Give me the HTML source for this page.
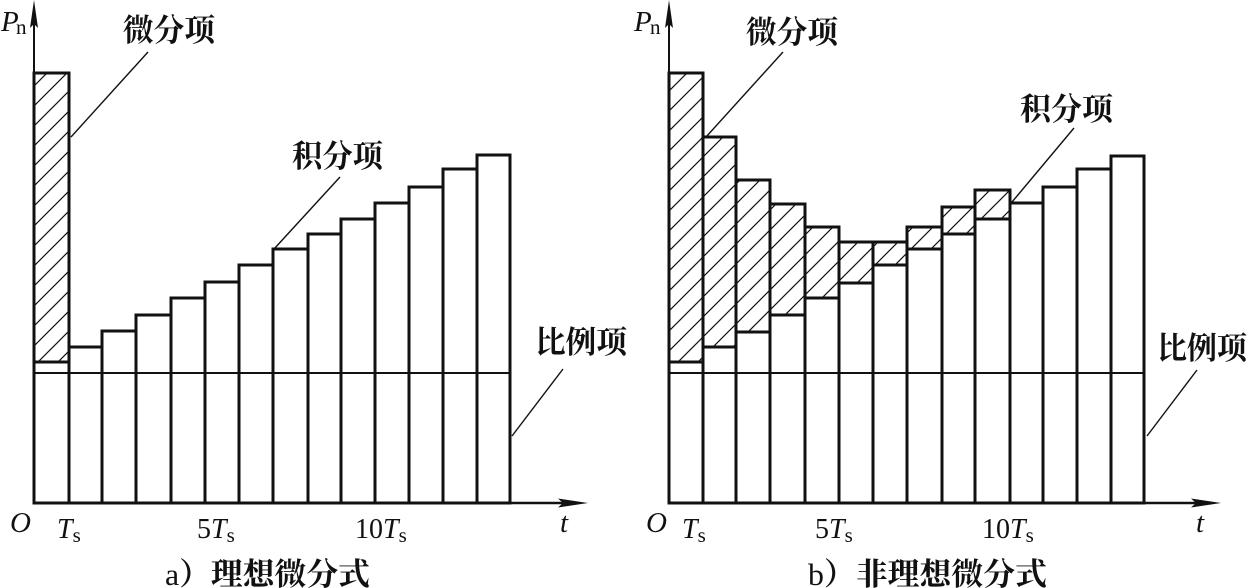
<!DOCTYPE html>
<html>
<head>
<meta charset="utf-8">
<style>
  html, body { margin:0; padding:0; background:#fff; }
  svg { display:block; }
  .lat { font-family: "Liberation Serif", serif; fill:#111; }
  .cjk { font-family: "Liberation Serif", "Noto Serif CJK SC", serif; font-weight:700; fill:#111; font-size:31px; }
</style>
</head>
<body>
<svg width="1247" height="588" viewBox="0 0 1247 588" xmlns="http://www.w3.org/2000/svg">
  <defs>
    <pattern id="hatch" patternUnits="userSpaceOnUse" width="20" height="20">
      <line x1="-5" y1="25" x2="25" y2="-5" stroke="#111" stroke-width="1.2"/>
      <line x1="-5" y1="5" x2="5" y2="-5" stroke="#111" stroke-width="1.2"/>
      <line x1="15" y1="25" x2="25" y2="15" stroke="#111" stroke-width="1.2"/>
    </pattern>
  </defs>
  <rect x="0" y="0" width="1247" height="588" fill="#fff"/>

  <!-- ========== LEFT CHART ========== -->
  <g stroke="#111" stroke-width="3" fill="#fff">
    <rect x="34" y="362" width="35" height="141"/>
    <rect x="69" y="347" width="33" height="156"/>
    <rect x="102" y="331" width="34" height="172"/>
    <rect x="136" y="315" width="35" height="188"/>
    <rect x="171" y="298" width="34" height="205"/>
    <rect x="205" y="282" width="34" height="221"/>
    <rect x="239" y="265" width="34" height="238"/>
    <rect x="273" y="249" width="35" height="254"/>
    <rect x="308" y="234" width="33" height="269"/>
    <rect x="341" y="219" width="34" height="284"/>
    <rect x="375" y="203" width="34" height="300"/>
    <rect x="409" y="187" width="34" height="316"/>
    <rect x="443" y="169" width="34" height="334"/>
    <rect x="477" y="155" width="33" height="348"/>
    <rect x="34" y="73" width="35" height="289" fill="url(#hatch)"/>
  </g>
  <line x1="34" y1="373" x2="510" y2="373" stroke="#111" stroke-width="2"/>
  <line x1="34" y1="503" x2="34" y2="10" stroke="#111" stroke-width="2"/>
  <polygon points="34,0 30,28 34,24 38,28" fill="#111"/>
  <line x1="33" y1="503" x2="575" y2="503" stroke="#111" stroke-width="2.5"/>
  <polygon points="588,503 558,498.5 563,503 558,507.5" fill="#111"/>
  <g stroke="#111" stroke-width="1.4">
    <line x1="71" y1="137" x2="148" y2="52"/>
    <line x1="274" y1="249" x2="340" y2="177"/>
    <line x1="512" y1="436" x2="563" y2="369"/>
  </g>
  <text class="lat" x="1" y="31" font-size="29" font-style="italic">P</text>
  <text class="lat" x="16" y="34" font-size="21">n</text>
  <text class="lat" x="10" y="532" font-size="29" font-style="italic">O</text>
  <text class="lat" x="57" y="538" font-size="28"><tspan font-style="italic">T</tspan><tspan font-size="21" dy="4">s</tspan></text>
  <text class="lat" x="197" y="538" font-size="28">5<tspan font-style="italic">T</tspan><tspan font-size="21" dy="4">s</tspan></text>
  <text class="lat" x="355" y="538" font-size="28">10<tspan font-style="italic">T</tspan><tspan font-size="21" dy="4">s</tspan></text>
  <text class="lat" x="560" y="532" font-size="29" font-style="italic">t</text>
  <text class="cjk" x="123" y="41" textLength="92" lengthAdjust="spacingAndGlyphs">微分项</text>
  <text class="cjk" x="292" y="167" textLength="91" lengthAdjust="spacingAndGlyphs">积分项</text>
  <text class="cjk" x="535" y="353" textLength="92" lengthAdjust="spacingAndGlyphs">比例项</text>
  <text class="cjk" x="165" y="585" textLength="205" lengthAdjust="spacingAndGlyphs"><tspan style="font-weight:400">a</tspan>）理想微分式</text>

  <!-- ========== RIGHT CHART ========== -->
  <g stroke="#111" stroke-width="3" fill="#fff">
    <rect x="669" y="362" width="34" height="141"/>
    <rect x="703" y="347" width="33" height="156"/>
    <rect x="736" y="332" width="34" height="171"/>
    <rect x="770" y="315" width="35" height="188"/>
    <rect x="805" y="298" width="34" height="205"/>
    <rect x="839" y="283" width="34" height="220"/>
    <rect x="873" y="265" width="34" height="238"/>
    <rect x="907" y="249" width="35" height="254"/>
    <rect x="942" y="234" width="33" height="269"/>
    <rect x="975" y="219" width="35" height="284"/>
    <rect x="1010" y="203" width="33" height="300"/>
    <rect x="1043" y="187" width="34" height="316"/>
    <rect x="1077" y="169" width="34" height="334"/>
    <rect x="1111" y="156" width="33" height="347"/>
  </g>
  <g stroke="#111" stroke-width="3" fill="url(#hatch)">
    <rect x="669" y="73" width="34" height="289"/>
    <rect x="703" y="137" width="33" height="210"/>
    <rect x="736" y="180" width="34" height="152"/>
    <rect x="770" y="204" width="35" height="111"/>
    <rect x="805" y="227" width="34" height="71"/>
    <rect x="839" y="242" width="34" height="41"/>
    <rect x="873" y="242" width="34" height="23"/>
    <rect x="907" y="227" width="35" height="22"/>
    <rect x="942" y="207" width="33" height="27"/>
    <rect x="975" y="190" width="35" height="29"/>
  </g>
  <line x1="669" y1="373" x2="1144" y2="373" stroke="#111" stroke-width="2"/>
  <line x1="669" y1="503" x2="669" y2="10" stroke="#111" stroke-width="2"/>
  <polygon points="669,0 665,28 669,24 673,28" fill="#111"/>
  <line x1="668" y1="503" x2="1208" y2="503" stroke="#111" stroke-width="2.5"/>
  <polygon points="1221,503 1191,498.5 1196,503 1191,507.5" fill="#111"/>
  <g stroke="#111" stroke-width="1.4">
    <line x1="706" y1="137" x2="783" y2="52"/>
    <line x1="1012" y1="202" x2="1074" y2="128"/>
    <line x1="1147" y1="436" x2="1197" y2="370"/>
  </g>
  <text class="lat" x="634" y="31" font-size="29" font-style="italic">P</text>
  <text class="lat" x="650" y="34" font-size="21">n</text>
  <text class="lat" x="646" y="532" font-size="29" font-style="italic">O</text>
  <text class="lat" x="682" y="538" font-size="28"><tspan font-style="italic">T</tspan><tspan font-size="21" dy="4">s</tspan></text>
  <text class="lat" x="815" y="538" font-size="28">5<tspan font-style="italic">T</tspan><tspan font-size="21" dy="4">s</tspan></text>
  <text class="lat" x="982" y="538" font-size="28">10<tspan font-style="italic">T</tspan><tspan font-size="21" dy="4">s</tspan></text>
  <text class="lat" x="1196" y="532" font-size="29" font-style="italic">t</text>
  <text class="cjk" x="746" y="43" textLength="92" lengthAdjust="spacingAndGlyphs">微分项</text>
  <text class="cjk" x="1020" y="120" textLength="93" lengthAdjust="spacingAndGlyphs">积分项</text>
  <text class="cjk" x="1157" y="359" textLength="90" lengthAdjust="spacingAndGlyphs">比例项</text>
  <text class="cjk" x="808" y="585" textLength="239" lengthAdjust="spacingAndGlyphs"><tspan style="font-weight:400">b</tspan>）非理想微分式</text>
</svg>
</body>
</html>
